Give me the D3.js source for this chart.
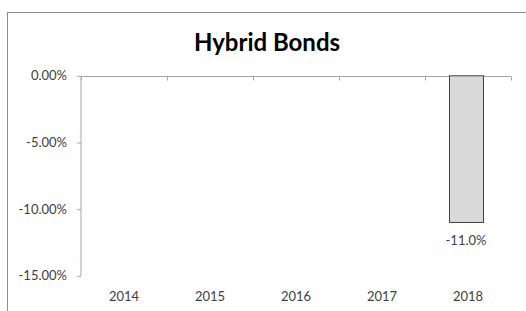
<!DOCTYPE html>
<html><head><meta charset="utf-8">
<script src="https://cdn.jsdelivr.net/npm/d3@7"></script>
<style>body{margin:0;background:#fff;}svg{display:block;font-family:Lato,"Open Sans",sans-serif;}</style>
</head><body><svg id="c" width="526" height="311"></svg>
<script>
const categories = ["2014","2015","2016","2017","2018"];
const values = [null,null,null,null,-0.11];
const yTicks = [0,-0.05,-0.10,-0.15];
const title = "Hybrid Bonds";

const loc = d3.formatLocale({decimal:".",thousands:",",grouping:[3],currency:["$",""],minus:"-"});
const svg = d3.select("#c");
svg.append("rect").attr("x",7.5).attr("y",12.5).attr("width",540).attr("height",320)
  .attr("fill","none").attr("stroke","#8c8c8c").attr("stroke-width",1);

svg.append("text").attr("x",267).attr("y",51).attr("text-anchor","middle")
  .attr("font-size",24).attr("font-weight","bold").attr("fill","#000").text(title);

const xb = d3.scaleBand().domain(categories).range([81,511]);
const x = d3.scaleBand().domain(categories).range([79,509]).paddingInner(0.6).paddingOuter(0.3);
const y = d3.scaleLinear().domain([-0.15,0]).range([275.8,75.8]);

const ya = svg.append("g").attr("transform","translate(81,0)")
  .call(d3.axisLeft(y).tickValues(yTicks).tickSize(4).tickPadding(10).tickFormat(loc.format(".2%")));
ya.select(".domain").attr("stroke","#a6a6a6").attr("d","M0,"+y(0)+"V"+Math.round(y(-0.15)));
ya.selectAll(".tick line").attr("stroke","#a6a6a6");
ya.selectAll(".tick text").attr("font-size",13).attr("fill","#404040").attr("font-family","Lato,sans-serif");

const xa = svg.append("g").attr("transform","translate(0,"+(Math.round(y(0))+0.5)+")");
xa.append("line").attr("x1",81).attr("x2",511).attr("stroke","#a6a6a6");
const bounds = categories.map(c=>xb(c)).concat([xb(categories[categories.length-1])+xb.bandwidth()]);
xa.selectAll("line.t").data(bounds).join("line").attr("class","t")
  .attr("x1",d=>Math.round(d)+0.5).attr("x2",d=>Math.round(d)+0.5).attr("y1",0).attr("y2",4).attr("stroke","#a6a6a6");

svg.selectAll("text.cat").data(categories).join("text").attr("class","cat")
  .attr("x",d=>xb(d)+xb.bandwidth()/2).attr("y",301).attr("text-anchor","middle")
  .attr("font-size",13).attr("fill","#404040").text(d=>d);

const data = categories.map((c,i)=>({c,v:values[i]})).filter(d=>d.v!=null);
svg.selectAll("rect.bar").data(data).join("rect").attr("class","bar")
  .attr("x",d=>Math.round(x(d.c))+0.5).attr("width",Math.round(x.bandwidth()))
  .attr("y",d=>y(Math.max(0,d.v))).attr("height",d=>Math.abs(y(d.v)-y(0)))
  .attr("fill","#d9d9d9").attr("stroke","#404040").attr("stroke-width",1);

svg.selectAll("text.val").data(data).join("text").attr("class","val")
  .attr("x",d=>x(d.c)+x.bandwidth()/2).attr("y",d=>y(d.v)+23).attr("text-anchor","middle")
  .attr("font-size",13).attr("fill","#404040").text(d=>loc.format(".1%")(d.v));
</script></body></html>
